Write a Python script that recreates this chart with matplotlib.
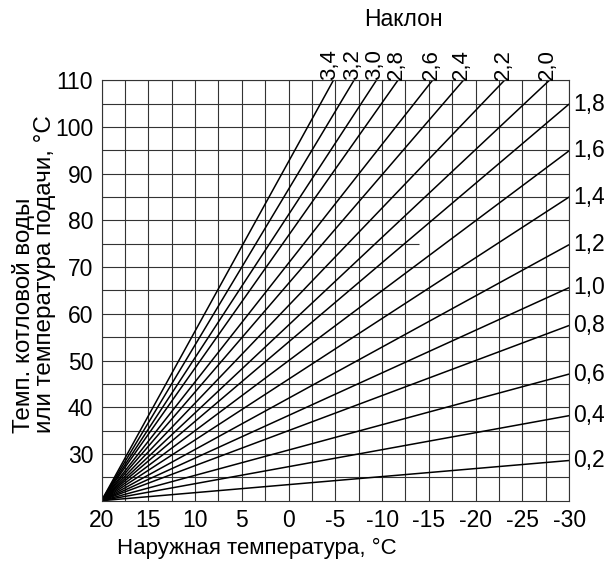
import matplotlib
matplotlib.use('Agg')
import matplotlib.pyplot as plt

plt.rcParams['font.family'] = ['Liberation Sans', 'DejaVu Sans']
plt.rcParams['axes.unicode_minus'] = False

# heating curves: all start at (20, 20), end either on the right edge or the top edge
room_x = 20
room_y = 20
slopes_right = ['0,2', '0,4', '0,6', '0,8', '1,0', '1,2', '1,4', '1,6', '1,8']
right_end_y = [28.6, 38.2, 47.1, 57.5, 65.6, 74.8, 85.0, 94.9, 104.9]
slopes_top = ['2,0', '2,2', '2,4', '2,6', '2,8', '3,0', '3,2', '3,4']
top_end_x = [-27.9, -23.1, -18.7, -15.4, -11.7, -9.4, -7.0, -4.8]

x_ticks = [20, 15, 10, 5, 0, -5, -10, -15, -20, -25, -30]
y_ticks = [30, 40, 50, 60, 70, 80, 90, 100, 110]

FS = 16.5

fig = plt.figure(figsize=(6.08, 5.61), dpi=100)
ax = fig.add_axes([0.167, 0.1075, 0.769, 0.7495])

ax.set_xlim(20, -30)
ax.set_ylim(20, 110)

ax.set_xticks(x_ticks)
ax.set_xticklabels([str(v) for v in x_ticks])
ax.set_xticks([17.5 - 5 * i for i in range(10)], minor=True)
ax.set_yticks(y_ticks)
ax.set_yticklabels([str(v) for v in y_ticks])
ax.set_yticks([25, 35, 45, 55, 65, 85, 95, 105], minor=True)
ax.tick_params(which='both', length=0, labelsize=FS, pad=6)
ax.grid(True, which='both', color='#333333', lw=0.8)
ax.hlines(75, 20, -14, color='#333333', lw=0.8)
for s in ax.spines.values():
    s.set_color('#333333')
    s.set_linewidth(0.8)

for lab, ye in zip(slopes_right, right_end_y):
    ax.plot([room_x, -30], [room_y, ye], color='black', lw=1.1, solid_capstyle='butt')
    ax.annotate(lab, xy=(-30, ye), xytext=(3, 0), textcoords='offset points',
                ha='left', va='center', fontsize=FS, annotation_clip=False)

for lab, xe in zip(slopes_top, top_end_x):
    ax.plot([room_x, xe], [room_y, 110], color='black', lw=1.1, solid_capstyle='butt')
    dx = -2.5 if lab == '3,4' else -1.2
    ax.annotate(lab, xy=(xe, 110), xytext=(dx, 0), textcoords='offset points',
                ha='center', va='bottom', rotation=90, fontsize=16, annotation_clip=False)

fig.text(403 / 608, 1 - 20 / 561, 'Наклон', ha='center', va='center', fontsize=FS)
fig.text(117 / 608, 1 - 548 / 561, 'Наружная температура, °C', ha='left', va='center', fontsize=16)
fig.text(34 / 608, 1 - 433 / 561, 'Темп. котловой воды\nили температура подачи, °C',
         rotation=90, ha='center', va='bottom', multialignment='left', fontsize=17.5,
         linespacing=0.92)

fig.savefig('out.png', dpi=100)
